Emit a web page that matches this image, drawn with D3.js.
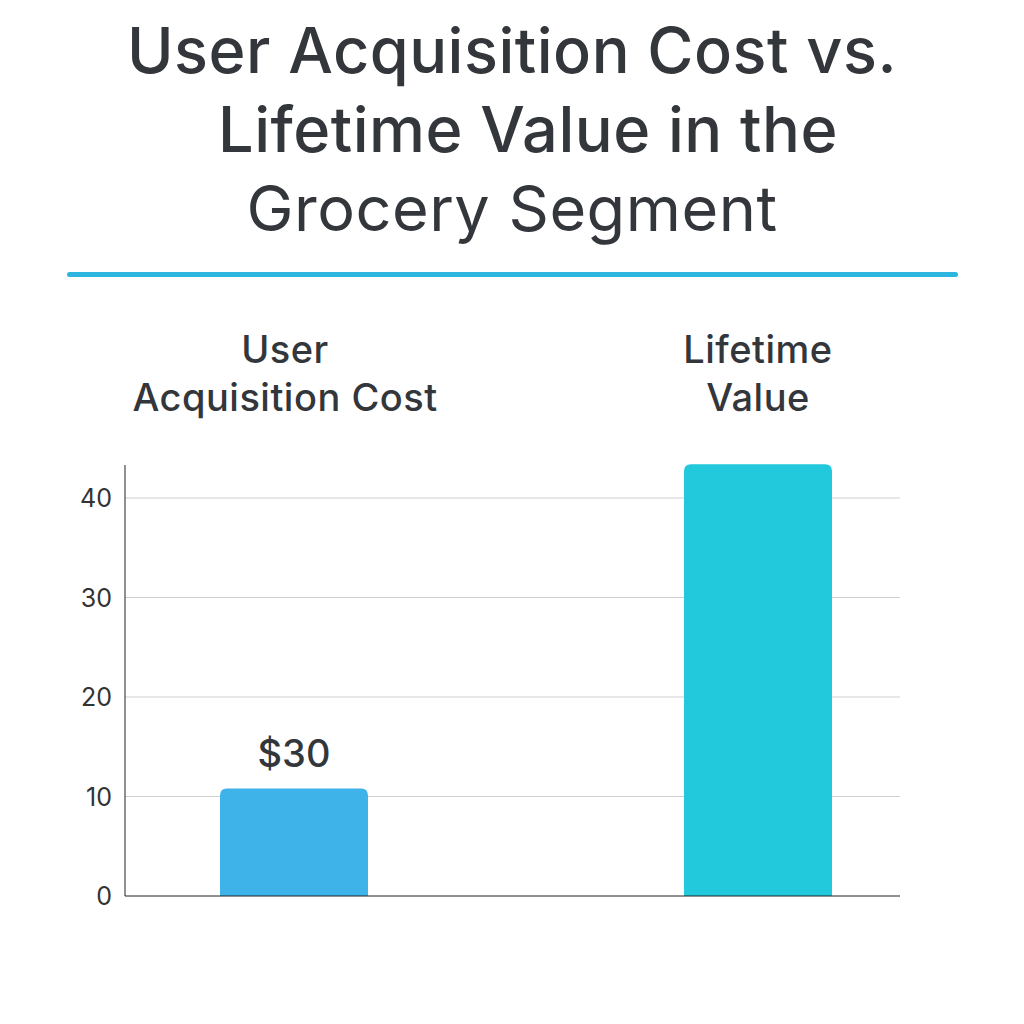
<!DOCTYPE html>
<html><head><meta charset="utf-8">
<script src="https://cdn.jsdelivr.net/npm/d3@7"></script>
<style>body{margin:0;background:#fff}</style></head>
<body><svg id="c" width="1024" height="1024"></svg>
<script>
const categories = ["User Acquisition Cost", "Lifetime Value"];
const values = [10.8, 43.4];
const valueLabels = ["$30", ""];
const yTicks = [0, 10, 20, 30, 40];
const titleLines = ["User Acquisition Cost vs.", "Lifetime Value in the", "Grocery Segment"];
const headerLines = [["User", "Acquisition Cost"], ["Lifetime", "Value"]];
const colors = ["#3db3e9", "#22c9dc"];

const svg = d3.select("#c");
const font = "Inter, 'Noto Sans', sans-serif";
svg.selectAll("text.t").data(titleLines).enter().append("text")
  .attr("x", (d,i)=>i==1?528:512).attr("y", (d, i) => 73 + i * 79).attr("text-anchor", "middle")
  .attr("font-family", font).attr("font-size", 63).attr("font-weight", (d,i)=>i<2?500:400)
  .attr("letter-spacing", 0.5).attr("fill", "#33363b").text(d => d);
svg.append("rect").attr("x", 67).attr("y", 272).attr("width", 891).attr("height", 5).attr("rx", 2.5).attr("fill", "#2bb5df");

const x = d3.scaleBand().domain(categories).range([62, 990]).paddingInner(0.681).paddingOuter(0.3405);
const y = d3.scaleLinear().domain([0, 40]).range([896, 498]);

const hx = [285, 758];
headerLines.forEach((ls, i) => ls.forEach((l, j) => svg.append("text")
  .attr("x", hx[i]).attr("y", 363 + j * 48).attr("text-anchor", "middle")
  .attr("font-family", font).attr("font-size", 38).attr("font-weight", 500).attr("letter-spacing", 0.5)
  .attr("fill", "#33363b").text(l)));

svg.selectAll("line.g").data(yTicks.slice(1)).enter().append("line")
  .attr("x1", 125).attr("x2", 900).attr("y1", d => y(d)).attr("y2", d => y(d))
  .attr("stroke", "#cfcfcf").attr("stroke-width", 1);
svg.selectAll("text.yt").data(yTicks).enter().append("text")
  .attr("x", 112).attr("y", d => y(d) + 9).attr("text-anchor", "end")
  .attr("font-family", font).attr("font-size", 25).attr("fill", "#333").text(d => d);

svg.selectAll("path.bar").data(values).enter().append("path")
  .attr("d", (d, i) => {
    const x0 = x(categories[i]), w = x.bandwidth(), t = y(d), b = y(0), r = 7;
    return `M${x0},${b}V${t + r}Q${x0},${t} ${x0 + r},${t}H${x0 + w - r}Q${x0 + w},${t} ${x0 + w},${t + r}V${b}Z`;
  }).attr("fill", (d, i) => colors[i]);
svg.selectAll("text.vl").data(values).enter().append("text")
  .attr("x", (d, i) => x(categories[i]) + x.bandwidth() / 2).attr("y", d => y(d) - 22)
  .attr("text-anchor", "middle").attr("font-family", font).attr("font-size", 38).attr("font-weight", 500)
  .attr("fill", "#33363b").text((d, i) => valueLabels[i]);

svg.append("line").attr("x1", 125).attr("x2", 125).attr("y1", 465).attr("y2", 896).attr("stroke", "#222");
svg.append("line").attr("x1", 125).attr("x2", 900).attr("y1", 896).attr("y2", 896).attr("stroke", "#222");
</script></body></html>
